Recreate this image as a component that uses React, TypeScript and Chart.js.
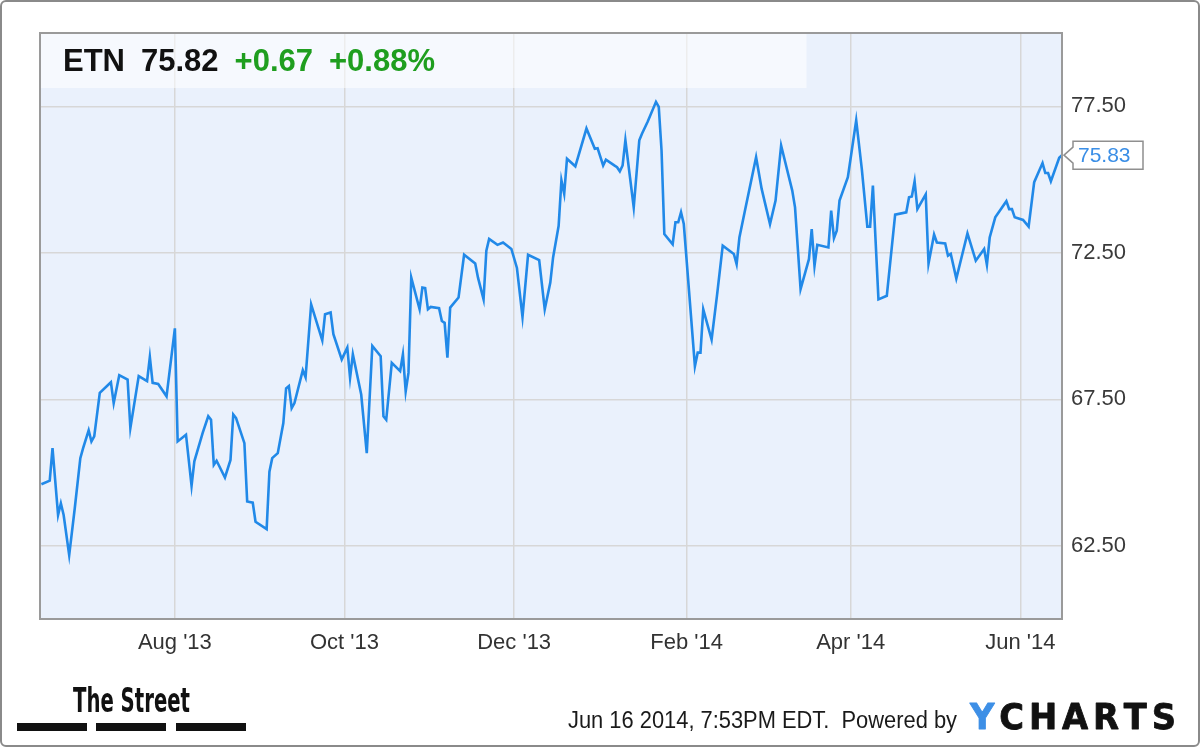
import React, { useEffect, useRef } from "react";
import { Chart, registerables } from "chart.js";
Chart.register(...registerables);

// ---- data ----
const START_DATE = "2013-06-14";
const END_DATE = "2014-06-16";
// trading-day offsets (days since START_DATE)
const dayOffsets = [
  0, 3, 4, 6, 7, 8, 10, 12, 14, 15,
  17, 18, 19, 21, 25, 26, 28, 31, 32, 35,
  38, 39, 40, 42, 45, 48, 49, 52, 54, 55,
  58, 60, 61, 62, 63, 66, 68, 69, 70, 73,
  74, 76, 77, 81, 82, 83, 85, 87, 88, 89,
  90, 91, 94, 95, 97, 101, 102, 104, 105, 108,
  110, 111, 112, 115, 117, 119, 122, 123, 124, 126,
  129, 130, 131, 132, 133, 136, 137, 138, 139, 140,
  143, 144, 145, 146, 147, 150, 152, 156, 157, 159,
  160, 161, 164, 166, 169, 171, 173, 175, 179, 181,
  183, 184, 186, 187, 188, 189, 192, 196, 199, 200,
  202, 203, 206, 207, 208, 209, 210, 213, 215, 216,
  218, 221, 222, 223, 224, 227, 228, 229, 230, 231,
  235, 236, 237, 238, 241, 243, 245, 249, 250, 251,
  253, 257, 259, 262, 264, 266, 270, 271, 273, 276,
  277, 278, 279, 283, 284, 285, 286, 287, 290, 293,
  295, 297, 298, 299, 301, 304, 307, 311, 312, 313,
  314, 315, 318, 319, 321, 322, 325, 326, 327, 329,
  333, 336, 339, 340, 341, 343, 347, 348, 349, 350,
  353, 355, 357, 360, 361, 362, 363, 366, 367,
];
const prices = [
  64.6, 64.72, 65.83, 63.55, 63.95, 63.55, 62.18, 63.78, 65.49, 65.83,
  66.44, 66.06, 66.23, 67.72, 68.08, 67.37, 68.32, 68.17, 66.52, 68.29,
  68.12, 68.94, 68.06, 68.02, 67.6, 69.92, 66.06, 66.29, 64.55, 65.38,
  66.35, 66.92, 66.8, 65.26, 65.4, 64.83, 65.43, 66.98, 66.86, 66.0,
  64.01, 63.97, 63.32, 63.07, 65.03, 65.49, 65.66, 66.69, 67.87, 67.95,
  67.2, 67.37, 68.49, 68.25, 70.74, 69.51, 70.4, 70.46, 69.72, 68.86,
  69.26, 68.23, 69.03, 67.66, 65.66, 69.32, 68.97, 66.92, 66.8, 68.74,
  68.46, 69.03, 67.77, 68.4, 71.65, 70.57, 71.31, 71.29, 70.57, 70.65,
  70.61, 70.17, 70.11, 68.92, 70.63, 70.97, 72.43, 72.13, 71.65, 70.91,
  72.57, 72.97, 72.77, 72.85, 72.63, 71.98, 70.31, 72.43, 72.25, 70.57,
  71.48, 72.34, 73.42, 74.97, 74.51, 75.71, 75.45, 76.74, 76.05, 76.07,
  75.48, 75.68, 75.48, 75.42, 75.28, 75.48, 76.34, 74.05, 76.34, 76.57,
  76.97, 77.65, 77.48, 75.99, 73.14, 72.79, 73.54, 73.54, 73.88, 73.48,
  68.63, 69.09, 69.09, 70.57, 69.54, 71.09, 72.74, 72.46, 72.11, 73.02,
  73.94, 75.76, 74.68, 73.48, 74.28, 76.16, 74.62, 74.05, 71.26, 72.28,
  73.31, 72.05, 72.77, 72.68, 73.94, 73.0, 73.25, 74.28, 75.08, 77.02,
  75.37, 73.39, 73.39, 74.79, 70.91, 71.03, 73.8, 73.88, 74.39, 74.42,
  74.94, 73.99, 74.49, 72.13, 73.12, 72.85, 72.82, 72.4, 72.46, 71.62,
  73.16, 72.23, 72.63, 72.09, 73.02, 73.71, 74.26, 73.99, 73.99, 73.71,
  73.62, 73.39, 74.91, 75.56, 75.22, 75.22, 74.94, 75.74, 75.83,
];
const tickDates = ["2013-08-01", "2013-10-01", "2013-12-01", "2014-02-01", "2014-04-01", "2014-06-01"];
const tickLabels = ["Aug '13", "Oct '13", "Dec '13", "Feb '14", "Apr '14", "Jun '14"];
const yTicks = [62.5, 67.5, 72.5, 77.5];
const Y_MIN = 60;
const Y_MAX = 80;

const SYMBOL = "ETN";
const LAST_PRICE = "75.82";
const CHANGE = "+0.67";
const CHANGE_PCT = "+0.88%";
const TIMESTAMP = "Jun 16 2014, 7:53PM EDT.  Powered by";
const BRAND = "The Street";
const YCHARTS = "YCHARTS";

// ---- helpers ----
const dayDiff = (a: string, b: string) => Math.round((Date.parse(b) - Date.parse(a)) / 86400000);
const tickOffsets = tickDates.map((d) => dayDiff(START_DATE, d));
const X_MAX = dayDiff(START_DATE, END_DATE);

const FONT = "'Liberation Sans', Arial, Helvetica, sans-serif";
const LINE_BLUE = "#2189e8";

function fitText(ctx: CanvasRenderingContext2D, text: string, x: number, y: number, width: number) {
  const w = ctx.measureText(text).width;
  ctx.save();
  ctx.translate(x, y);
  ctx.scale(width / w, 1);
  ctx.fillText(text, 0, 0);
  ctx.restore();
}

const decor = {
  id: "decor",
  beforeDraw(chart: any) {
    const { ctx, chartArea: a } = chart;
    ctx.save();
    ctx.fillStyle = "#ffffff";
    ctx.fillRect(0, 0, chart.width, chart.height);
    ctx.fillStyle = "#eaf1fc";
    ctx.fillRect(a.left, a.top, a.right - a.left, a.bottom - a.top);
    ctx.restore();
  },
  beforeDatasetsDraw(chart: any) {
    const { ctx, chartArea: a } = chart;
    ctx.save();
    // header band
    ctx.fillStyle = "rgba(255,255,255,0.55)";
    ctx.fillRect(a.left, a.top, (a.right - a.left) * 0.75, 55);
    // header text
    ctx.font = `bold 31px ${FONT}`;
    ctx.textBaseline = "alphabetic";
    let x = 63;
    const y = 71;
    const parts: [string, string][] = [
      [SYMBOL, "#111111"],
      [LAST_PRICE, "#111111"],
      [CHANGE, "#1f9e1f"],
      [CHANGE_PCT, "#1f9e1f"],
    ];
    for (const [t, c] of parts) {
      ctx.fillStyle = c;
      ctx.fillText(t, x, y);
      x += ctx.measureText(t).width + 16;
    }
    ctx.restore();
  },
  afterDraw(chart: any) {
    const { ctx, chartArea: a, scales } = chart;
    ctx.save();
    // plot border
    ctx.strokeStyle = "#9a9a9a";
    ctx.lineWidth = 2;
    ctx.strokeRect(a.left, a.top, a.right - a.left, a.bottom - a.top);

    // last value label
    const lastVal = prices[prices.length - 1];
    const ly = scales.y.getPixelForValue(lastVal);
    const bx = a.right + 11;
    const bw = 70;
    const bh = 28;
    ctx.beginPath();
    ctx.moveTo(a.right + 2, ly);
    ctx.lineTo(bx, ly - 8);
    ctx.lineTo(bx, ly - bh / 2);
    ctx.lineTo(bx + bw, ly - bh / 2);
    ctx.lineTo(bx + bw, ly + bh / 2);
    ctx.lineTo(bx, ly + bh / 2);
    ctx.lineTo(bx, ly + 8);
    ctx.closePath();
    ctx.fillStyle = "#ffffff";
    ctx.fill();
    ctx.strokeStyle = "#8f8f8f";
    ctx.lineWidth = 1.5;
    ctx.stroke();
    ctx.fillStyle = "#3a8ee6";
    ctx.font = `21px ${FONT}`;
    ctx.textBaseline = "middle";
    ctx.fillText(lastVal.toFixed(2), bx + 5, ly + 1);

    // The Street logo
    ctx.textBaseline = "alphabetic";
    ctx.fillStyle = "#111111";
    ctx.font = `bold 34px 'Liberation Sans Narrow', 'DejaVu Sans Condensed', ${FONT}`;
    fitText(ctx, BRAND, 73, 712, 117);
    ctx.fillRect(17, 723, 70, 8);
    ctx.fillRect(96, 723, 70, 8);
    ctx.fillRect(176, 723, 70, 8);

    // timestamp
    ctx.fillStyle = "#1a1a1a";
    ctx.font = `23px ${FONT}`;
    fitText(ctx, TIMESTAMP, 568, 728, 389);

    // YCHARTS logo
    ctx.font = `bold 35px 'DejaVu Sans', ${FONT}`;
    {
      const letters = YCHARTS.split("");
      const widths = letters.map((l) => ctx.measureText(l).width);
      const gap = 5;
      const total = widths.reduce((s, v) => s + v, 0) + gap * (letters.length - 1);
      const sx = 206 / total;
      ctx.save();
      ctx.translate(970, 729);
      ctx.scale(sx, 1);
      ctx.lineWidth = 0.8;
      ctx.lineJoin = "round";
      let x = 0;
      letters.forEach((l, i) => {
        const col = i === 0 ? "#3d8fe6" : "#111111";
        ctx.fillStyle = col;
        ctx.strokeStyle = col;
        ctx.fillText(l, x, 0);
        ctx.strokeText(l, x, 0);
        x += widths[i] + gap;
      });
      ctx.restore();
    }

    // outer border
    ctx.strokeStyle = "#8a8a8a";
    ctx.lineWidth = 2;
    ctx.beginPath();
    (ctx as any).roundRect(1, 1, chart.width - 2, chart.height - 2, 5);
    ctx.stroke();
    ctx.restore();
  },
};

export default function App() {
  const ref = useRef<HTMLCanvasElement>(null);
  useEffect(() => {
    document.body.style.margin = "0";
    const points = dayOffsets.map((d, i) => ({ x: d, y: prices[i] }));
    const chart = new Chart(ref.current as HTMLCanvasElement, {
      type: "line",
      data: {
        datasets: [
          {
            data: points,
            borderColor: LINE_BLUE,
            borderWidth: 2.6,
            pointRadius: 0,
            tension: 0,
            fill: false,
          },
        ],
      },
      options: {
        responsive: false,
        animation: false,
        layout: { padding: { left: 40, top: 33, right: 0, bottom: 0 } },
        plugins: { legend: { display: false }, tooltip: { enabled: false } },
        scales: {
          x: {
            type: "linear",
            min: -0.5,
            max: X_MAX,
            afterBuildTicks: (s: any) => {
              s.ticks = tickOffsets.map((v) => ({ value: v }));
            },
            afterFit: (s: any) => {
              s.height = 128;
            },
            ticks: {
              autoSkip: false,
              maxRotation: 0,
              padding: 11,
              color: "#333333",
              font: { family: FONT, size: 22 },
              callback: (v: any) => {
                const i = tickOffsets.indexOf(Number(v));
                return i >= 0 ? tickLabels[i] : "";
              },
            },
            grid: { color: "#d7d7d7", lineWidth: 1.5, drawTicks: false },
            border: { display: false },
          },
          y: {
            position: "right",
            min: Y_MIN,
            max: Y_MAX,
            afterBuildTicks: (s: any) => {
              s.ticks = yTicks.map((v) => ({ value: v }));
            },
            afterFit: (s: any) => {
              s.width = 138;
            },
            ticks: {
              padding: 9,
              color: "#3a3a3a",
              font: { family: FONT, size: 22 },
              callback: (v: any) => Number(v).toFixed(2),
            },
            grid: { color: "#d7d7d7", lineWidth: 1.5, drawTicks: false },
            border: { display: false },
          },
        },
      } as any,
      plugins: [decor],
    });
    return () => chart.destroy();
  }, []);
  return (
    <div style={{ width: 1200, height: 747 }}>
      <canvas ref={ref} width={1200} height={747} style={{ display: "block" }} />
    </div>
  );
}
